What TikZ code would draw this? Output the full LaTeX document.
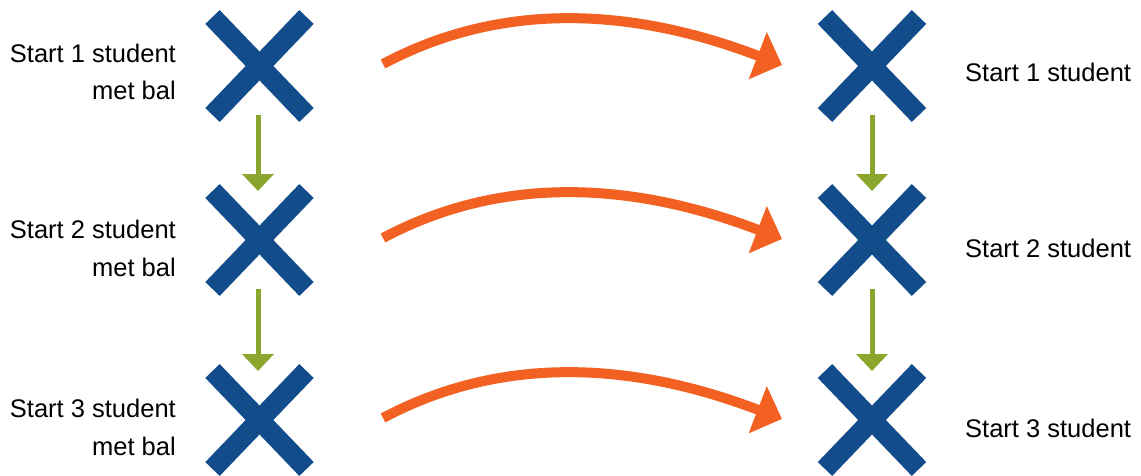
\documentclass[tikz,border=0pt]{standalone}
\usepackage{fontspec}
\setmainfont{Liberation Sans}
\usetikzlibrary{arrows.meta,calc}
\definecolor{xblue}{HTML}{124C8B}
\definecolor{xorange}{HTML}{F26122}
\definecolor{xgreen}{HTML}{8BA62D}
\begin{document}
\begin{tikzpicture}[x=1pt,y=1pt,
  crossbox/.style={minimum width=94pt,minimum height=98pt,inner sep=0pt,outer sep=0pt},
  xline/.style={draw=xblue,line width=20pt},
  lab/.style={font=\fontsize{25.5}{37.5}\selectfont,inner sep=0pt,text=black},
  orangearrow/.style={draw=xorange,line width=10pt,-{Triangle[length=26pt,width=49pt]}},
  greenarrow/.style={draw=xgreen,line width=5pt,-{Triangle[length=17pt,width=31pt]}}]
\useasboundingbox (0,0) rectangle (1141,475);
% crosses
\node[crossbox] (L1) at (259.5,409) {};
\node[crossbox] (L2) at (259.5,235) {};
\node[crossbox] (L3) at (259.5,55) {};
\node[crossbox] (R1) at (872,409) {};
\node[crossbox] (R2) at (872,235) {};
\node[crossbox] (R3) at (872,55) {};
\foreach \n in {L1,L2,L3,R1,R2,R3}{
  \draw[xline] (\n.north west) -- (\n.south east);
  \draw[xline] (\n.north east) -- (\n.south west);
}
% labels (base anchor = baseline of the last line)
\node[lab,align=right,anchor=base east] (tL1) at (176,375) {Start 1 student\\met bal};
\node[lab,align=right,anchor=base east] (tL2) at (176,199) {Start 2 student\\met bal};
\node[lab,align=right,anchor=base east] (tL3) at (176,20) {Start 3 student\\met bal};
\node[lab,anchor=base west] (tR1) at (965,393) {Start 1 student};
\node[lab,anchor=base west] (tR2) at (965,218) {Start 2 student};
\node[lab,anchor=base west] (tR3) at (965,38) {Start 3 student};
% green arrows
\draw[greenarrow] ([xshift=-1.5pt]L1.south) -- ([xshift=-1.5pt]L2.north);
\draw[greenarrow] ([xshift=-1.5pt]L2.south) -- ([xshift=-1.5pt]L3.north);
\draw[greenarrow] (R1.south) -- (R2.north);
\draw[greenarrow] (R2.south) -- (R3.north);
% orange arrows
\foreach \i in {1,2,3}{
  \coordinate (os\i) at ($(L\i.east)+(76.5,2)$);
  \coordinate (oe\i) at ($(R\i.west)+(-43,1)$);
  \draw[orangearrow] (os\i) .. controls +(119,63.4) and +(-149.4,57.3) .. (oe\i);
}
\end{tikzpicture}
\end{document}
